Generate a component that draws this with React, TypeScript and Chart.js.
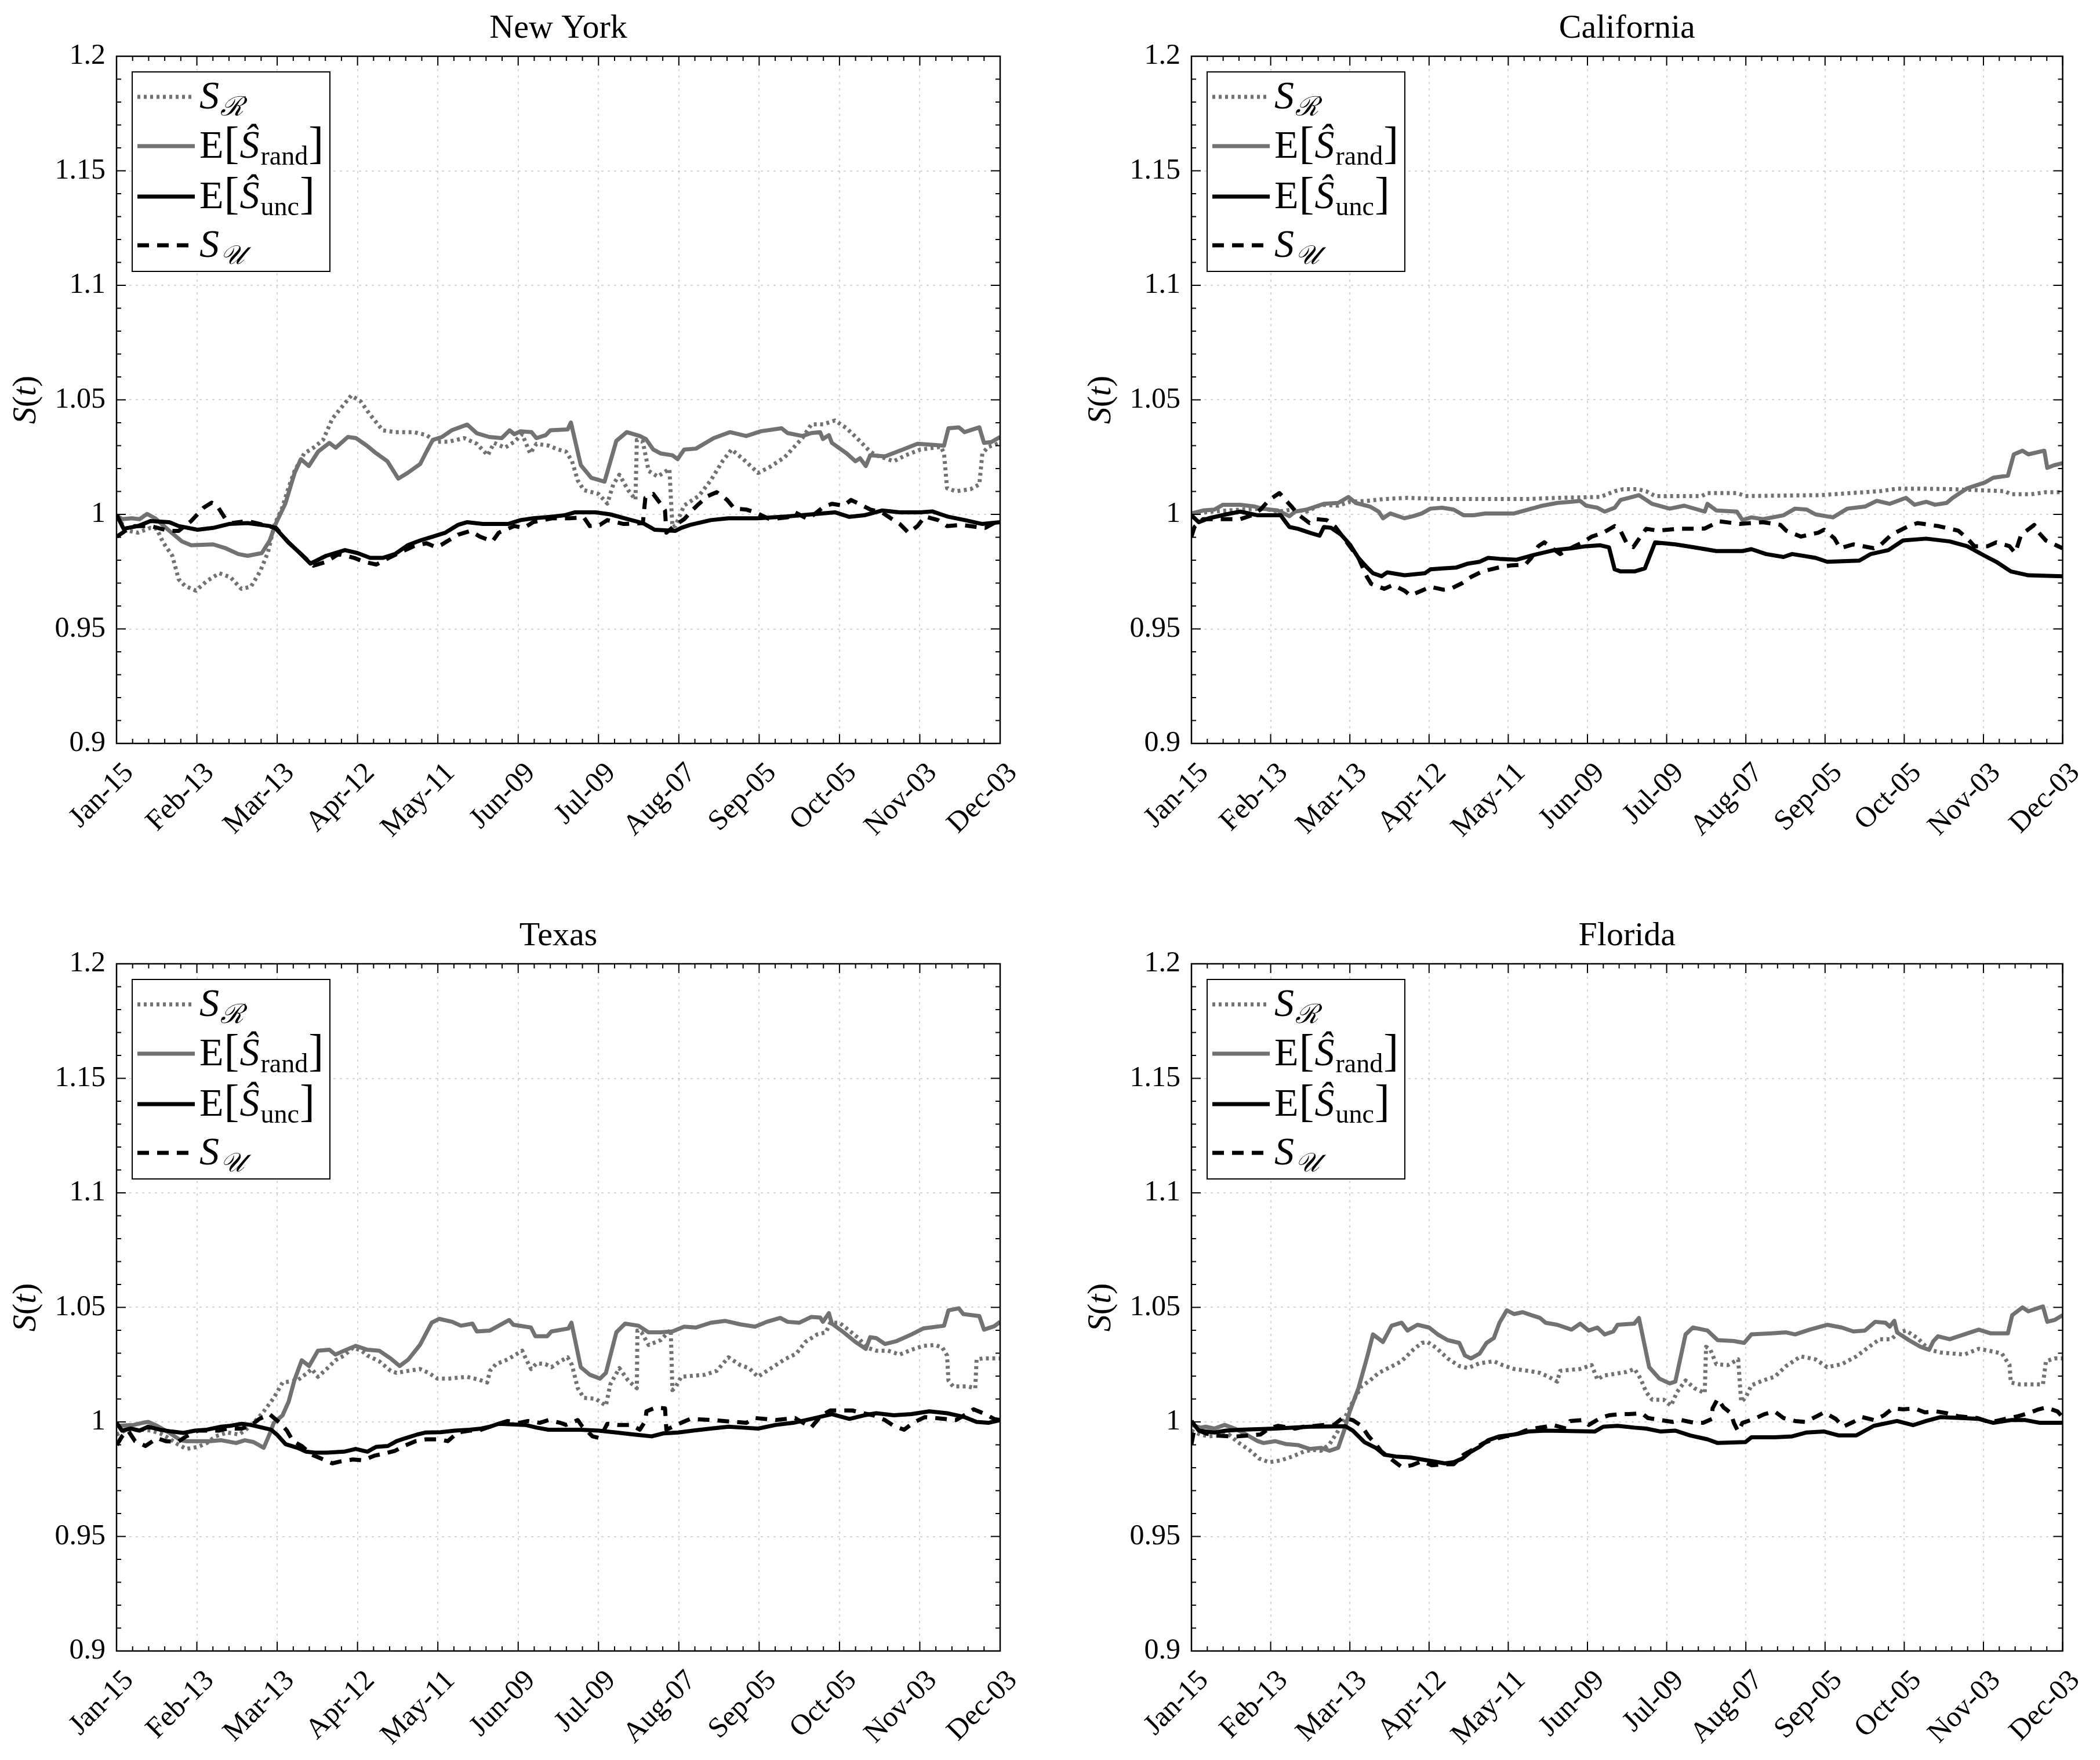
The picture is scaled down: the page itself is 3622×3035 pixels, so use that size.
import React, { useEffect, useRef } from "react";
import { Chart, registerables } from "chart.js";

Chart.register(...registerables);

// ---------- axis data ----------
const X_TICK_LABELS = ["Jan-15", "Feb-13", "Mar-13", "Apr-12", "May-11", "Jun-09", "Jul-09", "Aug-07", "Sep-05", "Oct-05", "Nov-03", "Dec-03"];
const X_SPAN_DAYS = 323; // Jan-15 .. Dec-03
const Y_TICKS = [0.9, 0.95, 1, 1.05, 1.1, 1.15, 1.2];
const Y_TICK_LABELS = ["0.9", "0.95", "1", "1.05", "1.1", "1.15", "1.2"];
const PANEL_TITLES = ["New York", "California", "Texas", "Florida"];

// ---------- series data: [day since Jan-15, value] ----------
const NY_SR = [[0,0.9985],[4.4,0.9928],[7.8,0.992],[12.4,0.9941],[14.7,0.9937],[17,0.9878],[20.4,0.9819],[22.7,0.9717],[25,0.9688],[29,0.9667],[33,0.9709],[37.6,0.9743],[41.6,0.9726],[45.6,0.9675],[49.1,0.9684],[52.5,0.9751],[55.4,0.9836],[57.7,0.9954],[60.6,1.003],[62.8,1.0114],[65.1,1.019],[68.6,1.0266],[72,1.0291],[75.5,1.0325],[78.9,1.0418],[82.3,1.0468],[85.8,1.0519],[89.2,1.0494],[92.7,1.0435],[97.3,1.0367],[101.8,1.0359],[108.7,1.0359],[113.3,1.0346],[116.8,1.0317],[121.3,1.0317],[127.1,1.0333],[131.7,1.0308],[135.7,1.0258],[138,1.0312],[142,1.0291],[145.4,1.0317],[148.3,1.035],[151.2,1.0266],[153.5,1.0308],[158,1.03],[161.5,1.0283],[164.3,1.0274],[166.5,1.0232],[168.6,1.0148],[170.8,1.0106],[176.2,1.0089],[179.4,1.0047],[181.6,1.0131],[183.8,1.0173],[187,1.0106],[189.7,1.0064],[190.2,1.0325],[192.4,1.0317],[194.5,1.019],[197.8,1.0165],[202.1,1.0198],[203.2,0.9945],[204.3,0.995],[207.5,1.0039],[212.9,1.0081],[217.2,1.0148],[221.5,1.0232],[224.8,1.0283],[229.1,1.0241],[234.5,1.0181],[238.8,1.0207],[244.2,1.0249],[250.7,1.0333],[254,1.0393],[258.3,1.0393],[262.6,1.041],[266.9,1.0376],[271.3,1.0325],[275.5,1.0274],[277.7,1.0258],[284.1,1.0232],[288.5,1.0258],[293.9,1.0283],[301.4,1.0295],[302.5,1.0266],[303.6,1.0114],[306.8,1.0101],[312.2,1.011],[315.4,1.0131],[316.5,1.0266],[318.7,1.0295],[323,1.0312]];
const NY_RAND = [[0,0.9996],[2.1,0.9979],[5.5,0.9983],[8.4,0.9979],[11.2,1.0002],[14.1,0.9983],[19.3,0.9928],[23.9,0.9882],[27.3,0.9865],[35.3,0.9869],[39.9,0.9852],[44.5,0.9827],[47.9,0.9819],[53.1,0.9831],[56,0.9886],[58.3,0.9962],[61.7,1.0047],[65.1,1.0181],[67.4,1.0241],[70.3,1.0211],[73.7,1.0274],[77.8,1.0312],[80.1,1.0291],[84.6,1.0338],[87.5,1.0333],[91.5,1.03],[95,1.0266],[99,1.0232],[103,1.0156],[106.4,1.0181],[111,1.022],[113.3,1.0274],[115.6,1.0325],[119,1.0338],[122.5,1.0367],[128.2,1.0392],[131.7,1.0354],[136.2,1.0338],[140.8,1.0333],[143.7,1.0367],[145.4,1.035],[147.7,1.0363],[151.7,1.0359],[153.5,1.0333],[156.9,1.0346],[158.6,1.0367],[164.9,1.0371],[166.1,1.0401],[169.7,1.0215],[173.5,1.016],[178.4,1.0143],[182.7,1.0321],[186.5,1.0359],[191.3,1.0342],[193.5,1.0329],[196.2,1.0283],[198.9,1.0266],[203.2,1.0258],[205.1,1.0241],[207.5,1.0283],[211.8,1.0287],[218.3,1.0333],[224.2,1.0359],[230.2,1.0342],[235.6,1.0363],[243.1,1.0376],[245.3,1.0355],[250.7,1.0342],[254,1.0355],[257.2,1.0359],[258.2,1.0329],[260.4,1.0346],[261.5,1.0312],[266.9,1.0266],[270.1,1.0232],[271.8,1.0245],[273.9,1.0211],[275.5,1.0258],[280.9,1.0253],[287.4,1.0283],[292.8,1.0308],[302.5,1.03],[304.1,1.0376],[307.9,1.038],[310,1.0359],[315.4,1.038],[317.1,1.0312],[319.8,1.0316],[323,1.0338]];
const NY_UNC = [[0,0.9999],[2.6,0.9937],[7.8,0.9949],[12.4,0.9971],[19.3,0.9966],[22.7,0.9949],[29.6,0.9933],[35.3,0.9941],[41.1,0.9958],[47.9,0.9962],[56,0.9949],[58.3,0.9937],[62.8,0.9878],[67.4,0.9827],[70.9,0.9785],[76.6,0.9819],[83.5,0.9844],[88.1,0.9831],[92.7,0.981],[97.3,0.981],[101.8,0.9827],[106.4,0.9865],[111,0.9886],[115.6,0.9903],[120.2,0.992],[124.8,0.9954],[128.2,0.9966],[133.9,0.9958],[138.5,0.9958],[143.1,0.9958],[147.7,0.9975],[152.3,0.9983],[159.2,0.999],[163.8,0.9996],[167.6,1.0009],[175.1,1.0009],[180.5,1],[187,0.9979],[192.4,0.9962],[196.7,0.9933],[204.3,0.9928],[206.4,0.9941],[209.7,0.9954],[217.2,0.9975],[223.7,0.9983],[234.5,0.9983],[245.3,0.9991],[254,1],[262.6,1.0009],[267.9,0.9989],[273.3,0.9996],[279.8,1.0017],[286.3,1.0009],[293.9,1.0009],[298.2,1.0013],[303.6,0.9991],[310.1,0.9975],[316.5,0.9958],[323,0.9966]];
const NY_SU = [[0.1,0.9903],[3.2,0.9928],[6.7,0.9949],[12.4,0.9949],[19.3,0.9928],[22.7,0.9928],[27.3,0.9971],[31.9,1.003],[34.8,1.0051],[36.5,1.0042],[39.9,0.9979],[42.2,0.9962],[47.9,0.9971],[58.3,0.9941],[62.8,0.9878],[72,0.9776],[76.6,0.9793],[81.2,0.9827],[86.9,0.981],[90.4,0.9793],[95,0.9781],[99.5,0.981],[104.1,0.9836],[108.7,0.9861],[113.3,0.9874],[116.8,0.9857],[119,0.9869],[124.8,0.9911],[129.4,0.9928],[132.8,0.9903],[137.4,0.9882],[139.7,0.992],[145.4,0.9949],[148.9,0.9941],[152.3,0.9966],[159.2,0.9983],[165.4,0.9983],[170.8,0.9987],[173,0.9949],[176.7,0.9954],[179.4,0.9975],[185.4,0.9958],[192.4,0.9962],[193.3,1.0072],[196.2,1.0089],[198.9,1.0046],[200.5,1.0017],[201,0.992],[204.3,0.9954],[207.5,0.9979],[210.7,1.0021],[212.9,1.0046],[216.1,1.008],[219.4,1.0097],[223.2,1.0063],[225.9,1.0025],[230.2,1.0021],[233.4,1.0009],[238.8,0.9979],[245.3,0.9987],[248,1.0009],[252.8,0.9979],[258.2,1.003],[261.5,1.0046],[265.8,1.0038],[268.5,1.0063],[272.8,1.0038],[275.5,1.0021],[279.8,1.0009],[282,0.9991],[286.3,0.9958],[289.5,0.992],[292.8,0.9949],[295.5,0.9991],[300.3,0.9975],[303.6,0.9949],[309,0.9954],[314.4,0.9945],[317.6,0.9941],[320.8,0.9962],[323,0.997]];

const CA_SR = [[0,1.0004],[7.5,1.0012],[18.1,1.0021],[26.7,1.0025],[32,1.0012],[37.4,1.0021],[42.7,1.0012],[48,1.0042],[54.4,1.0038],[58.7,1.0055],[65.1,1.0059],[71.5,1.0067],[80.1,1.0072],[92.9,1.0067],[103.6,1.0067],[124.9,1.0067],[135.6,1.0072],[151.6,1.0076],[156.9,1.0101],[160.1,1.011],[165.4,1.011],[168.6,1.0101],[171.9,1.008],[189.2,1.008],[191.3,1.0093],[202.2,1.0093],[205.4,1.008],[233.5,1.0084],[244.3,1.0093],[255.1,1.0101],[261.6,1.0112],[271.4,1.0112],[282.2,1.011],[293,1.0105],[301.6,1.0101],[303.8,1.0088],[311.4,1.0088],[316.8,1.0097],[323,1.0097]];
const CA_RAND = [[0,1.0004],[4.3,1.0017],[8.5,1.0021],[11.7,1.0042],[18.1,1.0042],[23.5,1.0034],[26.2,1.0025],[32,1.0017],[36.3,0.9992],[38.4,1.0012],[42.7,1.0021],[49.1,1.0046],[54.4,1.005],[58.2,1.0076],[60.9,1.005],[66.2,1.0034],[69.4,1.0012],[71,0.9983],[73.7,1.0004],[79,0.9983],[82.2,0.9992],[85.4,1.0004],[88.6,1.0025],[92.9,1.0029],[97.2,1.0021],[100.9,0.9996],[104.6,0.9996],[108.9,1.0004],[119.6,1.0004],[124.9,1.0021],[130.2,1.0038],[135.6,1.005],[140.9,1.0055],[144.1,1.0059],[146.3,1.0038],[150.5,1.0029],[153.2,1.0012],[156.9,1.0029],[159.1,1.0063],[162.1,1.0072],[165.9,1.0084],[170.8,1.0046],[177.3,1.0025],[182.7,1.0038],[190.3,1.0012],[191.3,1.0046],[194.6,1.0017],[202.2,1.0012],[204.3,0.9975],[207.6,0.9987],[211.9,0.9979],[219.5,0.9996],[223.8,1.0025],[228.1,1.0021],[231.4,1],[237.8,0.9987],[243.2,1.0025],[249.7,1.0034],[254.1,1.0059],[258.9,1.0046],[264.9,1.0072],[268.1,1.0042],[272.4,1.0055],[275.7,1.0042],[280,1.005],[282.2,1.0072],[287.6,1.0114],[294.1,1.0139],[297.3,1.016],[302.7,1.0169],[304.9,1.0262],[308.1,1.0278],[310.3,1.0262],[316.2,1.0278],[317.3,1.0203],[320,1.0215],[323,1.0224]];
const CA_UNC = [[0,0.9996],[2.7,0.9966],[6.4,0.9983],[12.8,1],[18.1,1.0012],[24.6,0.9996],[33.1,0.9996],[34.7,0.997],[36.3,0.9945],[39.5,0.9937],[43.8,0.992],[47.5,0.9907],[49.1,0.9945],[51.8,0.9941],[55.5,0.9911],[58.7,0.9869],[61.9,0.981],[65.1,0.9768],[67.3,0.9743],[70.5,0.973],[72.6,0.9747],[79,0.9734],[86.5,0.9743],[88.6,0.976],[92.9,0.9764],[98.2,0.9768],[102.5,0.9785],[106.8,0.9793],[110,0.981],[114.2,0.9806],[120.6,0.9802],[127,0.9823],[134.5,0.9844],[140.9,0.9852],[146.3,0.9861],[151.6,0.9865],[154.8,0.9856],[156.9,0.976],[159.1,0.9751],[164.3,0.9751],[168.1,0.9764],[171.9,0.9878],[179.4,0.9869],[185.9,0.9857],[194.6,0.984],[204.3,0.984],[207.6,0.9848],[213,0.9827],[219.5,0.9814],[222.7,0.9827],[231.4,0.981],[235.7,0.9793],[247.6,0.9798],[251.9,0.9827],[258.4,0.9844],[263.8,0.9886],[272.4,0.9894],[281.1,0.9882],[287.6,0.9861],[294.1,0.9819],[298.4,0.9793],[303.8,0.9751],[310.3,0.9734],[323,0.973]];
const CA_SU = [[0,0.9903],[1.1,0.9945],[4.3,0.9979],[12.8,0.9979],[18.1,0.9979],[22.4,0.9996],[25.6,1.0021],[28.8,1.0063],[32.6,1.0093],[34.2,1.0072],[37.4,1.003],[39.5,1],[43.8,0.9962],[46.4,0.9979],[50.2,0.9975],[53.4,0.9945],[57.6,0.9878],[61.9,0.981],[65.1,0.9726],[66.7,0.9696],[71.5,0.9675],[74.7,0.9692],[79,0.9667],[81.1,0.9646],[85.4,0.9667],[88.6,0.9684],[93.4,0.9671],[96.1,0.9675],[100.4,0.97],[103.6,0.9726],[107.8,0.9751],[111,0.976],[115.3,0.9772],[118.5,0.9777],[123.8,0.9781],[126,0.981],[128.6,0.9861],[130.8,0.9878],[136.7,0.9827],[142,0.9861],[145.2,0.9878],[148.4,0.9903],[152.7,0.992],[156.9,0.9949],[159.1,0.9928],[161.2,0.9878],[163.8,0.9857],[166.5,0.9903],[168.6,0.9937],[172.9,0.9929],[180.5,0.9937],[190.3,0.9938],[195.7,0.997],[203.2,0.9958],[211.9,0.9966],[218.4,0.9954],[220.5,0.9929],[225.9,0.9903],[232.4,0.992],[234.6,0.9933],[238.4,0.9895],[240.5,0.9852],[245.4,0.9869],[253,0.9852],[255.7,0.9869],[259.5,0.9911],[265.9,0.9949],[269.2,0.9962],[276.8,0.9949],[284.3,0.9929],[287.6,0.9895],[290.3,0.9861],[295.2,0.9861],[298.4,0.9878],[303.3,0.9861],[305.4,0.9831],[307.6,0.9911],[312.5,0.9954],[313.5,0.9929],[316.8,0.9886],[323,0.9852]];

const TX_SR = [[0,0.9945],[3.1,0.9962],[9.5,0.9966],[12.7,0.9962],[15.9,0.995],[19.1,0.9929],[22.3,0.9903],[25.5,0.9882],[29.8,0.9891],[33,0.9908],[36.2,0.9937],[40.5,0.9954],[44.7,0.9945],[46.9,0.9962],[50.1,0.9996],[53.3,1.0038],[57.5,1.0105],[60.7,1.0172],[66.1,1.0181],[69.3,1.021],[71.4,1.0231],[73.6,1.0197],[76.8,1.0231],[80,1.0269],[83.2,1.029],[86.4,1.0324],[89.6,1.0311],[91.7,1.029],[96,1.0265],[100.2,1.0223],[102.4,1.0214],[106.7,1.0223],[110.9,1.0231],[114.1,1.0214],[117.3,1.0189],[121.6,1.0189],[128,1.0197],[132.3,1.0185],[135.5,1.0172],[136.5,1.0223],[138.7,1.0252],[143,1.0273],[148.3,1.0311],[149.4,1.0282],[151.5,1.0231],[153.6,1.0256],[156.8,1.0252],[159,1.0239],[162.2,1.0265],[164.9,1.0282],[166.5,1.0248],[168.6,1.0147],[170.8,1.0105],[175.1,1.0101],[178.9,1.0071],[180.5,1.0164],[183.8,1.0235],[187,1.0181],[190.2,1.0147],[190.4,1.0399],[191.9,1.0391],[194.5,1.0336],[198.9,1.0357],[202.6,1.0403],[203.2,1.0139],[204.3,1.0151],[206.4,1.0197],[215.1,1.0206],[219.4,1.0223],[223.7,1.0282],[228,1.0248],[231.2,1.0235],[234.5,1.0197],[238.8,1.0231],[244.2,1.0273],[248.5,1.0298],[251.8,1.0349],[256.1,1.0382],[259.3,1.0391],[260.9,1.0433],[264.2,1.0433],[266.9,1.0408],[271.2,1.0366],[274.4,1.0324],[277.7,1.0311],[282,1.0311],[286.3,1.0294],[290.6,1.0315],[294.9,1.0332],[299.3,1.0336],[301.9,1.0324],[303.6,1.029],[304.1,1.0181],[305.8,1.0155],[311.2,1.0155],[313.9,1.0147],[314.4,1.0273],[316.6,1.0277],[323,1.0277]];
const TX_RAND = [[0,0.9983],[6.3,0.9987],[9.5,0.9996],[11.6,1],[14.8,0.9983],[19.1,0.9954],[23.4,0.992],[25.5,0.9916],[34.1,0.9916],[38.3,0.992],[43.7,0.9908],[46.9,0.992],[50.1,0.9912],[53.8,0.9887],[55.9,0.9945],[57.5,0.9996],[60.7,1.0029],[62.9,1.0088],[65,1.0181],[67.7,1.0269],[70.4,1.0244],[73.6,1.0311],[77.8,1.0315],[80,1.0294],[83.2,1.0311],[87.4,1.0332],[91.7,1.0315],[96,1.0311],[100.2,1.0277],[103.5,1.0244],[106.7,1.0273],[110.9,1.0336],[115.2,1.0433],[117.9,1.045],[122.7,1.0437],[125.9,1.042],[130.1,1.0429],[131.7,1.0395],[136.5,1.0399],[139.7,1.042],[143.5,1.0445],[145.1,1.0424],[151.5,1.0412],[153.1,1.0374],[157.4,1.0374],[159,1.0395],[165.2,1.0408],[166.3,1.0433],[169.7,1.0239],[173,1.0206],[176.7,1.0189],[178.9,1.0214],[182.7,1.0391],[185.9,1.0429],[190.8,1.042],[194.5,1.0391],[198.9,1.0391],[203.2,1.0395],[207.5,1.0416],[211.8,1.0412],[217.2,1.0433],[222.6,1.0441],[228,1.0426],[233.4,1.0416],[237.7,1.0437],[242.6,1.0454],[245.3,1.0437],[249.6,1.0433],[253.9,1.0458],[257.2,1.0456],[258.2,1.0437],[260.4,1.0475],[261.5,1.0429],[265.8,1.0391],[270.1,1.0349],[273.9,1.0319],[275.5,1.037],[277.7,1.0366],[280.9,1.034],[285.2,1.0353],[290.6,1.0382],[294.9,1.0408],[302.5,1.042],[304.1,1.0487],[307.9,1.0496],[309.5,1.0471],[315.4,1.0462],[317.1,1.0403],[320.9,1.0418],[323,1.0437]];
const TX_UNC = [[0,0.9996],[2,0.9962],[5.2,0.9971],[8.4,0.9962],[11.6,0.9979],[15.9,0.9966],[20.2,0.9958],[24.4,0.9952],[28.7,0.9962],[33,0.9966],[38.3,0.9979],[41.5,0.9983],[45.8,0.9992],[49,0.9987],[53.3,0.9975],[56.5,0.9966],[58.6,0.9945],[61.8,0.9903],[66.1,0.9887],[69.3,0.987],[72.5,0.9866],[76.8,0.9866],[83.2,0.987],[87.4,0.9882],[91.7,0.987],[94.9,0.9891],[99.2,0.9895],[102.4,0.9916],[105.6,0.9929],[109.9,0.9945],[113.1,0.9954],[118.4,0.9955],[123.7,0.9962],[129.1,0.9966],[133.3,0.9971],[136.5,0.9979],[139.7,0.9992],[149.4,0.9987],[153.6,0.9975],[157.9,0.9966],[169.7,0.9966],[176.2,0.9962],[182.7,0.9954],[189.2,0.9945],[195.6,0.9937],[199.9,0.995],[205.3,0.9954],[210.7,0.9962],[217.2,0.9971],[223.7,0.9979],[229.1,0.9975],[234.5,0.9971],[241,0.9987],[247.4,0.9996],[253.9,1.0013],[261.5,1.0034],[267.9,1.0013],[273.3,1.0029],[277.7,1.0038],[284.1,1.0029],[290.6,1.0034],[297.1,1.0046],[303.6,1.0038],[310,1.0021],[314.4,1],[318.7,0.9996],[323,1.0008]];
const TX_SU = [[0.1,0.9899],[2,0.9937],[4.2,0.9962],[6.8,0.9916],[10.6,0.9895],[14.8,0.9929],[18,0.9916],[22.3,0.9912],[25.5,0.9937],[29.8,0.9962],[37.3,0.9962],[40.5,0.9971],[45.8,0.9971],[49,0.9983],[52.2,1.0013],[55.9,1.0034],[59.7,0.9996],[62.3,0.9962],[64.5,0.9916],[67.7,0.9895],[71.4,0.9857],[74.6,0.9841],[78.9,0.9819],[82.1,0.9828],[86.4,0.9836],[90.1,0.9832],[94.4,0.9853],[97.6,0.9861],[101.8,0.9874],[105.1,0.9895],[109.3,0.9916],[113.1,0.9924],[117.9,0.9924],[121.1,0.9916],[124.8,0.9954],[129.1,0.9962],[132.3,0.9962],[136.5,0.9979],[139.7,0.9992],[143,1.0004],[147.2,0.9996],[150.4,1.0004],[154.7,0.9996],[157.9,1.0008],[162.2,0.9996],[164.3,0.9987],[168.6,1.0008],[170.3,0.9979],[174,0.9937],[176.7,0.9929],[179.4,0.9992],[183.2,0.9987],[188.1,0.9987],[191.3,0.9966],[193.3,1.0004],[193.7,1.0046],[197.2,1.0063],[200.5,1.0059],[201,0.9966],[206.4,0.9996],[209.7,1.0013],[218.3,1.0008],[225.9,1],[230.2,0.9996],[233.4,1.0017],[241,1.0008],[248,1.0017],[252.3,0.9987],[253.9,0.9975],[257.7,1.0029],[260.9,1.005],[269,1.005],[272.8,1.0038],[276.6,1.0029],[280.9,1.0008],[284.1,0.9983],[287.9,0.9966],[291.2,0.9996],[295.5,1.0021],[299.3,1.0017],[306.8,1.0008],[310.6,1.0034],[313.3,1.0055],[317.6,1.0034],[320.8,1.0013],[323,1.0008]];

const FL_SR = [[0,0.9962],[3.2,0.9945],[6.4,0.9937],[10.7,0.9941],[13.9,0.9945],[17.1,0.9912],[21.4,0.9878],[25.1,0.984],[28.8,0.9824],[33.1,0.9832],[37.4,0.9849],[41.6,0.987],[44.8,0.9878],[48,0.9874],[51.2,0.9903],[54.4,0.9962],[56.6,1.0012],[59.8,1.0088],[63,1.0155],[66.2,1.0181],[69.4,1.0214],[73.7,1.0239],[77.9,1.0265],[82.2,1.0315],[85.4,1.0345],[87.5,1.0349],[90.7,1.0324],[95,1.0277],[99.3,1.0244],[102.5,1.0235],[106.8,1.0256],[112.1,1.0265],[115.3,1.0248],[119.6,1.0231],[124.9,1.0223],[129.2,1.0214],[132.4,1.0197],[135.6,1.0176],[136.7,1.0223],[139.9,1.0227],[144.1,1.0231],[148.4,1.0248],[150.5,1.0185],[152.7,1.0202],[156.9,1.021],[161.2,1.0218],[164.3,1.0231],[166.5,1.0189],[168.6,1.013],[170.8,1.0097],[175.1,1.0097],[177.8,1.0071],[180,1.013],[183.2,1.0181],[186.5,1.0147],[190.3,1.0126],[190.8,1.0328],[192.4,1.0315],[194.6,1.0252],[198.9,1.0248],[202.7,1.0273],[203.8,1.0088],[205.4,1.0105],[207.6,1.016],[211.9,1.0181],[216.2,1.0197],[220.5,1.0244],[225.9,1.0286],[231.4,1.0273],[235.7,1.0239],[241.1,1.0252],[246.5,1.0286],[250.8,1.0324],[255.1,1.0361],[259.5,1.0361],[262.2,1.0391],[264.9,1.0399],[269.2,1.0366],[273.5,1.0315],[277.8,1.0303],[286.5,1.0294],[291.9,1.0319],[297.3,1.0307],[300.5,1.0298],[303.3,1.0248],[303.8,1.0172],[307,1.0164],[315.7,1.0164],[316.8,1.0265],[320,1.0277],[323,1.0277]];
const FL_RAND = [[0,0.9987],[3.2,0.9975],[5.3,0.9979],[8.5,0.9971],[12.3,0.9987],[16,0.9971],[20.3,0.9945],[24.6,0.9916],[26.7,0.9908],[31,0.9916],[35.2,0.9903],[39.5,0.9899],[43.8,0.9882],[48,0.9887],[51.2,0.9874],[54.4,0.9887],[56.6,0.9962],[58.7,1.0046],[61.9,1.0147],[65.1,1.0282],[67.3,1.0382],[71,1.0349],[74.2,1.042],[77.9,1.0433],[80.1,1.0399],[83.8,1.0424],[88.1,1.0412],[91.3,1.0382],[95,1.0357],[99.3,1.0345],[101.4,1.029],[103.6,1.0277],[106.8,1.0298],[109.4,1.0345],[112.1,1.0366],[114.2,1.0433],[116.9,1.0487],[119.6,1.0471],[122.8,1.0479],[126,1.0466],[129.2,1.0454],[131.3,1.0433],[135.6,1.0424],[140.9,1.0403],[144.1,1.0429],[147.3,1.0399],[150.5,1.0412],[153.2,1.0382],[156.4,1.0395],[158,1.0424],[164.2,1.0429],[165.9,1.0454],[169.7,1.0239],[173.5,1.0189],[177.3,1.0168],[179.4,1.0176],[183.2,1.0382],[185.9,1.0412],[191.3,1.0399],[195.1,1.0357],[201.1,1.0353],[204.9,1.0345],[207.6,1.0382],[215.1,1.0387],[220.5,1.0391],[223.8,1.0382],[229.2,1.0403],[235.7,1.0424],[241.1,1.0412],[245.4,1.0395],[249.7,1.0399],[253.5,1.0437],[257.3,1.0433],[258.9,1.0416],[260.6,1.0441],[261.6,1.0391],[266,1.0357],[270.3,1.0328],[273.5,1.0315],[275.1,1.0353],[276.8,1.0374],[281.1,1.0361],[286.5,1.0382],[291.9,1.0403],[296.2,1.0387],[302.7,1.0387],[304.3,1.0466],[308.1,1.05],[310.3,1.0483],[315.7,1.0504],[317.3,1.0437],[320,1.0445],[323,1.0466]];
const FL_UNC = [[0,1.0004],[2.7,0.9962],[8.5,0.9954],[12.8,0.9962],[18.1,0.9966],[31,0.9971],[43.8,0.9979],[57.1,0.9981],[59.8,0.9962],[64.1,0.9912],[68.3,0.9887],[71.5,0.9857],[75.8,0.9849],[81.1,0.9845],[85.4,0.9836],[89.7,0.9828],[93.9,0.9819],[97.2,0.9824],[100.4,0.984],[103.6,0.987],[106.8,0.9891],[110,0.992],[114.2,0.9937],[119.6,0.9945],[124.9,0.9958],[131.3,0.9962],[149.5,0.9958],[152.7,0.9979],[158,0.9983],[164.3,0.9975],[168.6,0.9971],[174,0.9958],[179.4,0.9962],[184.9,0.9941],[191.3,0.9924],[195.1,0.9908],[205.4,0.9912],[207.6,0.9933],[216.2,0.9933],[222.7,0.9937],[228.1,0.9954],[234.6,0.9958],[240,0.9941],[246.5,0.9941],[253,0.9983],[261.6,1.0004],[267.6,0.9986],[272.4,1.0004],[277.8,1.0021],[285.4,1.0017],[291.9,1.0013],[297.3,0.9996],[303.8,1.0008],[309.2,1.0008],[314.6,0.9996],[323,0.9996]];
const FL_SU = [[0,0.9903],[1.1,0.9971],[5.3,0.995],[8.5,0.9941],[13.9,0.9937],[17.1,0.9937],[21.4,0.9941],[25.6,0.9945],[28.8,0.9971],[32,0.9983],[38.4,0.9971],[41.6,0.9979],[45.9,0.9983],[49.1,0.9987],[52.8,0.9987],[56,1.0017],[59.8,1.0008],[63,0.9983],[65.7,0.9937],[68.3,0.9903],[70.5,0.987],[73.7,0.9841],[77.9,0.9803],[81.7,0.9811],[85.4,0.9828],[89.1,0.9811],[93.4,0.9815],[97.2,0.9815],[100.9,0.9857],[104.1,0.9878],[108.4,0.9908],[112.1,0.9924],[116.4,0.9937],[119.6,0.9941],[123.8,0.9962],[127,0.9971],[131.3,0.9979],[134,0.9987],[138.8,0.9971],[140.4,1.0004],[145.2,1.0008],[147.3,0.9987],[151.6,1.0017],[154.8,1.0029],[159.1,1.0034],[162.1,1.0034],[167,1.0038],[169.2,1.0017],[178.4,1],[181.6,1.0008],[186.5,0.9996],[189.7,0.9996],[193,1.0013],[193.2,1.0059],[195.1,1.0101],[197.3,1.0063],[200,1.0038],[201.1,0.9996],[202.7,0.9958],[204.3,0.9996],[208.6,1.0013],[212.4,1.0034],[216.2,1.0046],[219.5,1.0017],[223.8,1.0004],[227.6,1],[231.9,1.0025],[234.6,1.0042],[238.9,1.0013],[241.6,0.9979],[245.4,1],[248.7,1.0021],[253,1.0008],[256.8,1.0029],[260,1.0059],[263.8,1.0055],[268.1,1.0059],[271.9,1.0042],[276.2,1.0046],[280,1.0038],[284.3,1.0025],[287.6,1.0021],[291.4,1.0017],[294.6,1.0004],[298.4,1.0004],[301.6,1.0013],[306.5,1.0025],[310.3,1.0038],[314.1,1.0055],[316.8,1.0063],[321.1,1.0046],[323,1.0021]];

const PANEL_SERIES = [
  [NY_SR, NY_RAND, NY_UNC, NY_SU],
  [CA_SR, CA_RAND, CA_UNC, CA_SU],
  [TX_SR, TX_RAND, TX_UNC, TX_SU],
  [FL_SR, FL_RAND, FL_UNC, FL_SU],
];

// ---------- styles ----------
const FONT = "Liberation Serif";
Chart.defaults.font.family = FONT;
Chart.defaults.color = "#000";
const GRAY = "#727272";
const BLACK = "#000000";
const LINE_W = 7;
const SERIES_STYLES = [
  { color: GRAY, dash: [5, 6] },
  { color: GRAY, dash: [] as number[] },
  { color: BLACK, dash: [] as number[] },
  { color: BLACK, dash: [20, 14] },
];
// legend label pieces: [text, kind]
const LEGEND_PIECES: [string, string][][] = [
  [["S", "it"], ["ℛ", "subit"]],
  [["E", "rm"], ["[", "br"], ["Ŝ", "it"], ["rand", "sub"], ["]", "br"]],
  [["E", "rm"], ["[", "br"], ["Ŝ", "it"], ["unc", "sub"], ["]", "br"]],
  [["S", "it"], ["𝒰", "subit"]],
];
const CSS_FONT = '"Liberation Serif", "DejaVu Serif", serif';
const PIECE_FONTS: Record<string, [string, number]> = {
  it: [`italic 68px ${CSS_FONT}`, 20],
  rm: [`68px ${CSS_FONT}`, 20],
  br: [`78px ${CSS_FONT}`, 21],
  sub: [`46px ${CSS_FONT}`, 32],
  subit: [`italic 46px ${CSS_FONT}`, 32],
};

const CW = 1811;
const CH = 1518;
const PANELS = [
  { x: 0, y: 0, area: { left: 201, right: 1725, top: 97, bottom: 1282 }, ylabX: 46 },
  { x: 1811, y: 0, area: { left: 244, right: 1769, top: 97, bottom: 1282 }, ylabX: 89 },
  { x: 0, y: 1517, area: { left: 201, right: 1725, top: 145, bottom: 1330 }, ylabX: 46 },
  { x: 1811, y: 1517, area: { left: 244, right: 1769, top: 145, bottom: 1330 }, ylabX: 89 },
];

const xTickValues = X_TICK_LABELS.map((_, i) => (i * X_SPAN_DAYS) / (X_TICK_LABELS.length - 1));

function drawPieces(ctx: CanvasRenderingContext2D, x: number, y: number, pieces: [string, string][]) {
  let cx = x;
  ctx.textAlign = "left";
  ctx.textBaseline = "alphabetic";
  ctx.fillStyle = "#000";
  for (const [t, k] of pieces) {
    const [f, dy] = PIECE_FONTS[k];
    ctx.font = f;
    ctx.fillText(t, cx, y + dy);
    cx += ctx.measureText(t).width + (k === "it" ? 2 : 1);
  }
}

const decorPlugin = {
  id: "decor",
  beforeDatasetsDraw(chart: any) {
    const { ctx, chartArea: a, scales } = chart;
    const xs = scales.x, ys = scales.y;
    ctx.save();
    ctx.strokeStyle = "rgba(0,0,0,0.16)";
    ctx.lineWidth = 2;
    ctx.setLineDash([4, 7]);
    for (const v of xTickValues.slice(1, -1)) {
      const px = Math.round(xs.getPixelForValue(v));
      ctx.beginPath(); ctx.moveTo(px, a.top); ctx.lineTo(px, a.bottom); ctx.stroke();
    }
    for (const v of Y_TICKS.slice(1, -1)) {
      const py = Math.round(ys.getPixelForValue(v));
      ctx.beginPath(); ctx.moveTo(a.left, py); ctx.lineTo(a.right, py); ctx.stroke();
    }
    ctx.restore();
  },
  afterDatasetsDraw(chart: any, _a: any, opts: any) {
    const { ctx, chartArea: a, scales } = chart;
    const xs = scales.x, ys = scales.y;
    ctx.save();
    ctx.setLineDash([]);
    ctx.strokeStyle = "#000";
    ctx.lineWidth = 2;
    const nMinorX = (X_TICK_LABELS.length - 1) * 5;
    for (let i = 0; i <= nMinorX; i++) {
      const v = (i * X_SPAN_DAYS) / nMinorX;
      const len = i % 5 === 0 ? 16 : 8;
      const px = xs.getPixelForValue(v);
      ctx.beginPath();
      ctx.moveTo(px, a.bottom); ctx.lineTo(px, a.bottom - len);
      ctx.moveTo(px, a.top); ctx.lineTo(px, a.top + len);
      ctx.stroke();
    }
    for (let i = 0; i <= 30; i++) {
      const v = 0.9 + i * 0.01;
      const len = i % 5 === 0 ? 16 : 8;
      const py = ys.getPixelForValue(v);
      ctx.beginPath();
      ctx.moveTo(a.left, py); ctx.lineTo(a.left + len, py);
      ctx.moveTo(a.right, py); ctx.lineTo(a.right - len, py);
      ctx.stroke();
    }
    ctx.lineWidth = 2.5;
    ctx.strokeRect(a.left, a.top, a.right - a.left, a.bottom - a.top);

    // legend
    const bx = a.left + 27, by = a.top + 27, bw = 341, bh = 344;
    ctx.fillStyle = "#fff";
    ctx.fillRect(bx, by, bw, bh);
    ctx.lineWidth = 2;
    ctx.strokeStyle = "#000";
    ctx.strokeRect(bx, by, bw, bh);
    const rows = [43, 128, 215, 299];
    SERIES_STYLES.forEach((s, i) => {
      const yy = by + rows[i];
      ctx.save();
      ctx.beginPath();
      ctx.setLineDash(s.dash);
      ctx.strokeStyle = s.color;
      ctx.lineWidth = LINE_W;
      ctx.moveTo(bx + 9, yy);
      ctx.lineTo(bx + 108, yy);
      ctx.stroke();
      ctx.restore();
      drawPieces(ctx, bx + 116, yy, LEGEND_PIECES[i]);
    });

    // title
    ctx.fillStyle = "#000";
    ctx.font = `58px ${CSS_FONT}`;
    ctx.textAlign = "center";
    ctx.textBaseline = "alphabetic";
    ctx.fillText(opts.title, (a.left + a.right) / 2, a.top - 32);

    // y label S(t)
    const parts: [string, boolean][] = [["S", true], ["(", false], ["t", true], [")", false]];
    const widths = parts.map(([t, it]) => { ctx.font = `${it ? "italic " : ""}58px ${CSS_FONT}`; return ctx.measureText(t).width; });
    const total = widths.reduce((p, c) => p + c, 0);
    ctx.translate(opts.ylabX, (a.top + a.bottom) / 2);
    ctx.rotate(-Math.PI / 2);
    ctx.textAlign = "left";
    ctx.textBaseline = "middle";
    let cx = -total / 2;
    parts.forEach(([t, it], i) => {
      ctx.font = `${it ? "italic " : ""}58px ${CSS_FONT}`;
      ctx.fillText(t, cx, 0);
      cx += widths[i];
    });
    ctx.restore();
  },
};

function Panel({ index }: { index: number }) {
  const ref = useRef<HTMLCanvasElement>(null);
  useEffect(() => {
    const p = PANELS[index];
    const area = p.area;
    const series = PANEL_SERIES[index];
    const datasets = series.map((arr, i) => ({
      data: arr.slice().sort((m, n) => m[0] - n[0]).map(([x, y]) => ({ x, y })),
      borderColor: SERIES_STYLES[i].color,
      borderDash: SERIES_STYLES[i].dash,
      borderWidth: LINE_W,
      pointRadius: 0,
      tension: 0,
      fill: false,
      borderCapStyle: "butt" as const,
      borderJoinStyle: "round" as const,
      order: 4 - i,
    }));
    const tickFont = { family: FONT, size: 50 };
    const chart = new Chart(ref.current as HTMLCanvasElement, {
      type: "line",
      data: { datasets },
      plugins: [decorPlugin as any],
      options: {
        animation: false,
        responsive: false,
        devicePixelRatio: 1,
        font: { family: FONT },
        layout: {
          autoPadding: false,
          padding: { left: 0, top: area.top, right: CW - area.right, bottom: 0 },
        },
        plugins: {
          legend: { display: false },
          tooltip: { enabled: false },
          title: { display: false },
          decor: { title: PANEL_TITLES[index], ylabX: p.ylabX },
        } as any,
        scales: {
          x: {
            type: "linear",
            min: 0,
            max: X_SPAN_DAYS,
            afterBuildTicks: (s: any) => { s.ticks = xTickValues.map((v) => ({ value: v })); },
            afterFit: (s: any) => { s.height = CH - area.bottom; },
            grid: { display: false, drawTicks: false },
            border: { display: false },
            ticks: {
              autoSkip: false,
              minRotation: 45,
              maxRotation: 45,
              padding: 22,
              labelOffset: 22,
              color: "#000",
              font: tickFont,
              callback: (_v: any, i: number) => X_TICK_LABELS[i],
            },
          },
          y: {
            type: "linear",
            min: 0.9,
            max: 1.2,
            afterBuildTicks: (s: any) => { s.ticks = Y_TICKS.map((v) => ({ value: v })); },
            afterFit: (s: any) => { s.width = area.left; },
            grid: { display: false, drawTicks: false },
            border: { display: false },
            ticks: {
              padding: 19,
              color: "#000",
              font: tickFont,
              callback: (_v: any, i: number) => Y_TICK_LABELS[i],
            },
          },
        },
      } as any,
    });
    return () => chart.destroy();
  }, [index]);
  const p = PANELS[index];
  return (
    <canvas
      ref={ref}
      width={CW}
      height={CH}
      style={{ position: "absolute", left: p.x, top: p.y, width: CW, height: CH }}
    />
  );
}

export default function App() {
  return (
    <div style={{ position: "absolute", left: 0, top: 0, width: 3622, height: 3035, background: "#fff", overflow: "hidden" }}>
      {PANELS.map((_, i) => (
        <Panel key={i} index={i} />
      ))}
    </div>
  );
}
